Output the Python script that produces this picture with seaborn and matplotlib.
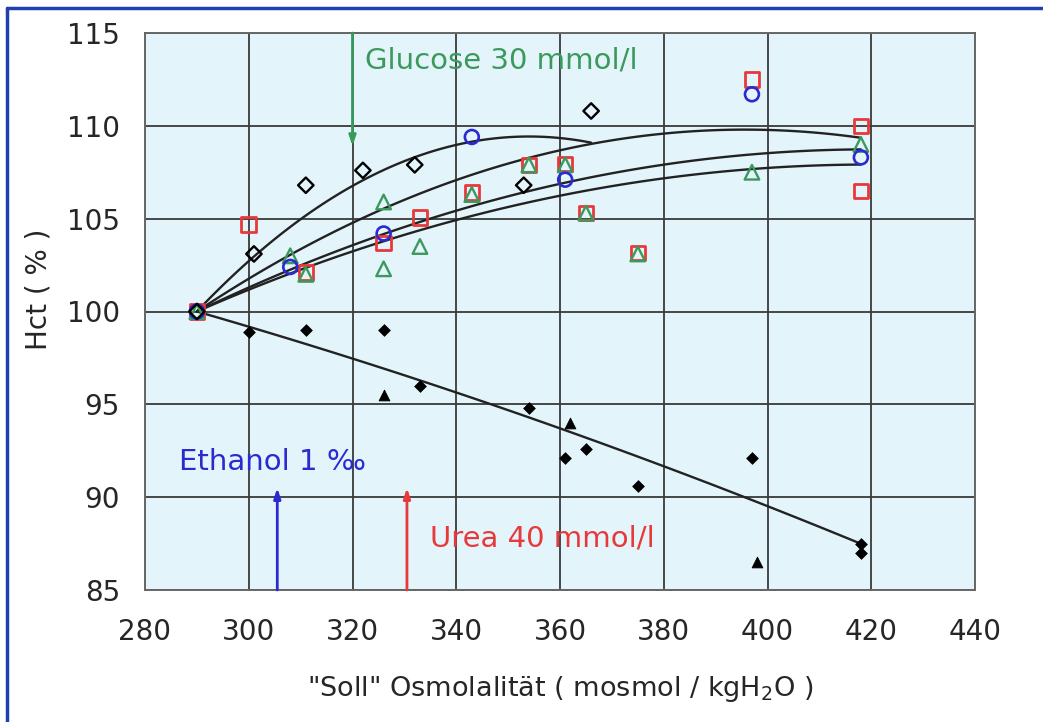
import numpy as np
import seaborn as sns
import matplotlib.pyplot as plt
from matplotlib.lines import Line2D

# Messwerte (abgelesen)
# offene Quadrate (rot)
sq_x = [290, 300, 311, 326, 333, 343, 354, 361, 365, 375, 397, 418, 418]
sq_y = [100, 104.7, 102.1, 103.7, 105.05, 106.4, 107.9, 107.95, 105.3, 103.15, 112.5, 110.0, 106.5]
# offene Kreise (blau)
ci_x = [290, 308, 326, 343, 361, 397, 418]
ci_y = [100, 102.4, 104.2, 109.4, 107.1, 111.7, 108.3]
# offene Dreiecke (gruen)
tri_x = [290, 308, 311, 326, 326, 333, 343, 354, 361, 365, 375, 397, 418]
tri_y = [100, 103.0, 102.0, 105.9, 102.3, 103.5, 106.3, 107.9, 107.9, 105.3, 103.1, 107.5, 109.0]
# offene Rauten (schwarz)
dia_x = [290, 301, 311, 322, 332, 353, 366]
dia_y = [100, 103.1, 106.8, 107.6, 107.9, 106.8, 110.8]
# gefuellte Rauten / Dreiecke
fdia_x = [300, 311, 326, 333, 354, 361, 365, 375, 397, 418, 418]
fdia_y = [98.9, 99.0, 99.0, 96.0, 94.8, 92.1, 92.6, 90.6, 92.1, 87.5, 87.0]
ftri_x = [326, 362, 398]
ftri_y = [95.5, 94.0, 86.5]

x0, y0 = 290, 100  # gemeinsamer Startpunkt

arrow_x = {"Glucose": 320, "Ethanol": 305.5, "Urea": 330.5}

green = "#3a9a5c"
red = "#e8393a"
blue = "#2a2ad0"


def fit_curve(x, y):
    # Polynom 2. Grades durch (290, 100)
    dx = np.asarray(x, float) - x0
    A = np.column_stack([dx, dx ** 2])
    c, *_ = np.linalg.lstsq(A, np.asarray(y, float) - y0, rcond=None)
    xs = np.linspace(x0, max(x), 120)
    return xs, y0 + c[0] * (xs - x0) + c[1] * (xs - x0) ** 2


sns.set_style("white")
plt.rcParams["font.family"] = ["DejaVu Sans"]

fig, ax = plt.subplots(figsize=(10.43, 7.22), dpi=100)
fig.subplots_adjust(left=145 / 1043, right=975 / 1043, top=1 - 33 / 722, bottom=1 - 590 / 722)
ax.set_facecolor("#e4f4fb")

# Trendlinien
for xx, yy in [(dia_x, dia_y), (sq_x, sq_y), (ci_x, ci_y), (tri_x, tri_y),
               (fdia_x + [x0], fdia_y + [y0])]:
    xs, ys = fit_curve(xx, yy)
    sns.lineplot(x=xs, y=ys, color="#222222", lw=1.7, sort=False, ax=ax, zorder=3)

sns.scatterplot(x=sq_x, y=sq_y, marker="s", s=110, facecolor="none", edgecolor=red, linewidth=2, ax=ax, zorder=4)
sns.scatterplot(x=tri_x, y=tri_y, marker="^", s=110, facecolor="none", edgecolor=green, linewidth=1.7, ax=ax, zorder=4)
sns.scatterplot(x=ci_x, y=ci_y, marker="o", s=100, facecolor="none", edgecolor=blue, linewidth=1.9, ax=ax, zorder=4)
sns.scatterplot(x=dia_x, y=dia_y, marker="D", s=62, facecolor="none", edgecolor="black", linewidth=1.7, ax=ax, zorder=5)
sns.scatterplot(x=fdia_x, y=fdia_y, marker="D", s=36, color="black", edgecolor="black", ax=ax, zorder=5)
sns.scatterplot(x=ftri_x, y=ftri_y, marker="^", s=60, color="black", edgecolor="black", ax=ax, zorder=5)

# Pfeile und Beschriftungen
hs = "-|>,head_length=0.6,head_width=0.2"
ax.annotate("", xy=(arrow_x["Glucose"], 108.9), xytext=(arrow_x["Glucose"], 115),
            arrowprops=dict(arrowstyle=hs, color=green, lw=2, shrinkA=0, shrinkB=0), zorder=6)
ax.annotate("", xy=(arrow_x["Ethanol"], 90.5), xytext=(arrow_x["Ethanol"], 85),
            arrowprops=dict(arrowstyle=hs, color=blue, lw=2, shrinkA=0, shrinkB=0), zorder=6)
ax.annotate("", xy=(arrow_x["Urea"], 90.5), xytext=(arrow_x["Urea"], 85),
            arrowprops=dict(arrowstyle=hs, color=red, lw=2, shrinkA=0, shrinkB=0), zorder=6)
ax.text(322.5, 113.5, "Glucose 30 mmol/l", color=green, fontsize=21, va="center", zorder=6)
ax.text(286.5, 91.9, "Ethanol 1 ‰", color=blue, fontsize=21, va="center", zorder=6)
ax.text(335, 87.8, "Urea 40 mmol/l", color=red, fontsize=21, va="center", zorder=6)

ax.set_xlim(280, 440)
ax.set_ylim(85, 115)
ax.set_xticks(range(280, 441, 20))
ax.set_yticks(range(85, 116, 5))
ax.grid(True, color="#3a3a3a", lw=1.3)
ax.set_axisbelow(True)
for s in ax.spines.values():
    s.set_color("#666666")
    s.set_linewidth(1.4)
ax.tick_params(axis="both", direction="out", length=7, width=1.3, color="#444444", labelsize=20)
ax.tick_params(axis="x", pad=13)
ax.tick_params(axis="y", pad=11)
ax.set_xlabel('"Soll" Osmolalität ( mosmol / kgH$_2$O )', fontsize=19.5, labelpad=20)
ax.set_ylabel("Hct ( % )", fontsize=20)
ax.yaxis.set_label_coords(-0.112, 0.54)

# blauer Rahmen oben/links
fig.add_artist(Line2D([0.0068, 0.0068], [0, 0.989], transform=fig.transFigure, color="#2040b0", lw=2.5))
fig.add_artist(Line2D([0.0068, 1], [0.989, 0.989], transform=fig.transFigure, color="#2040b0", lw=2.5))

fig.savefig("out.png", dpi=100, facecolor="white")
